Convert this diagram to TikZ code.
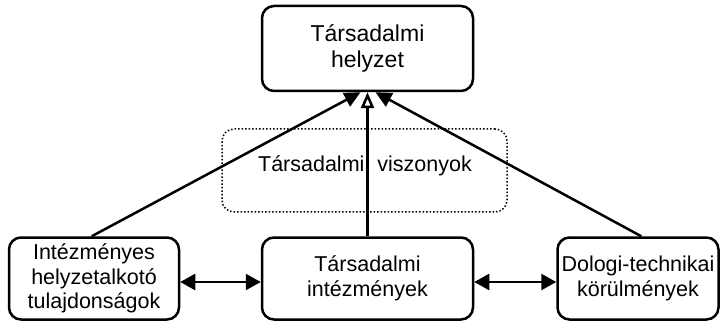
\documentclass[tikz,border=0pt]{standalone}
\usepackage{fontspec}
\setmainfont{Liberation Sans}
\usetikzlibrary{arrows.meta,calc}
\begin{document}
\begin{tikzpicture}[x=1pt,y=-1pt,
  box/.style={draw=black,line width=2.5pt,rounded corners=12pt,align=center,
    inner sep=0pt,font=\fontsize{21.5}{24.5}\selectfont},
  bigtext/.style={font=\fontsize{23}{25.5}\selectfont},
  rel/.style={draw=black,line width=1.5pt,dotted,rounded corners=12pt,inner sep=0pt},
  conn/.style={line width=2.5pt},
  lbl/.style={font=\fontsize{21.5}{24.5}\selectfont,inner sep=0pt}]
\useasboundingbox (0,0) rectangle (720,323);
\node[rel,minimum width=285pt,minimum height=83pt] (rel) at (364.5,170.5) {};
\node[lbl] (rellbl) at (365,166) {Társadalmi\hspace{13pt}viszonyok};
\node[box,bigtext,minimum width=211pt,minimum height=85pt] (top) at (367.5,48.5) {Társadalmi\\helyzet};
\node[box,minimum width=211pt,minimum height=82pt] (mid) at (367.5,278.5) {Társadalmi\\intézmények};
\node[box,minimum width=170pt,minimum height=82pt] (left) at (94,278.5) {Intézményes\\helyzetalkotó\\tulajdonságok};
\node[box,minimum width=161pt,minimum height=82pt] (right) at (638,278.5) {Dologi-technikai\\körülmények};
\coordinate (ls) at ($(left.north west)+(84,0)$);
\coordinate (rs) at ($(right.north west)+(85,0)$);
\coordinate (le) at ($(top.south)+(-7,0)$);
\coordinate (re) at ($(top.south)+(8,0)$);
\draw[conn,-{Triangle[length=16pt,width=15pt]}] (ls) -- (le);
\draw[conn,-{Triangle[length=16pt,width=15pt]}] (rs) -- (re);
\draw[conn,-{Triangle[length=16pt,width=13pt,fill=white]}] (mid.north) -- (top.south);
\draw[conn,{Triangle[length=15pt,width=16pt]}-{Triangle[length=15pt,width=16pt]}] ([yshift=-3.5pt]left.east) -- ([yshift=-3.5pt]mid.west);
\draw[conn,{Triangle[length=15pt,width=16pt]}-{Triangle[length=15pt,width=16pt]}] ([yshift=-3.5pt]mid.east) -- ([yshift=-3.5pt]right.west);
\end{tikzpicture}
\end{document}
